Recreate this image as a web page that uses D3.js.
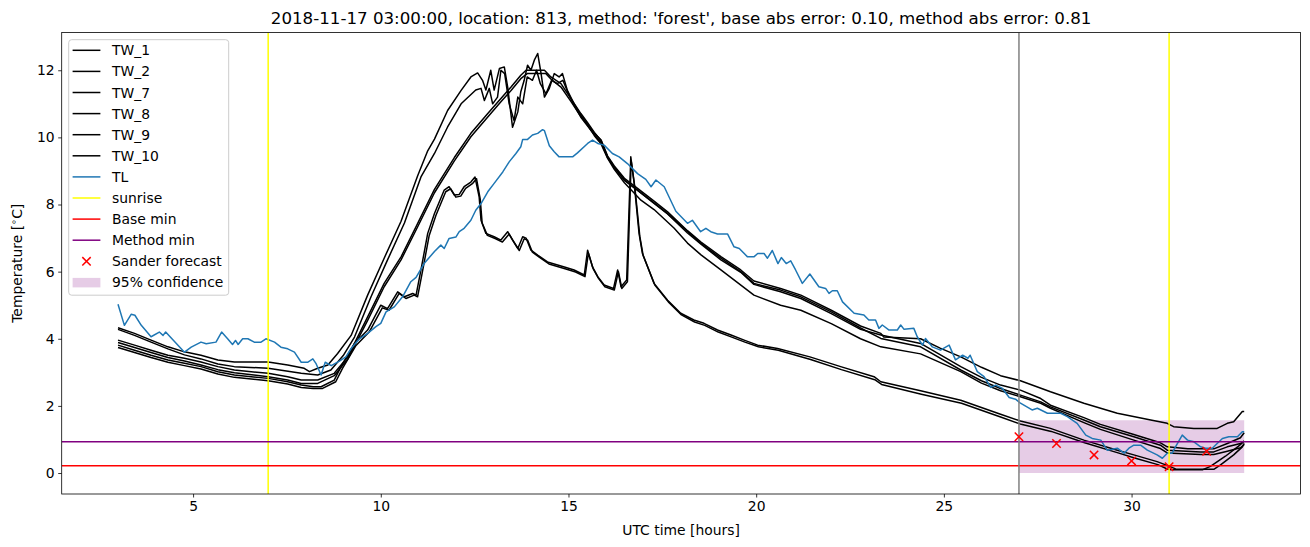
<!DOCTYPE html>
<html><head><meta charset="utf-8">
<script src="https://cdn.jsdelivr.net/npm/d3@7"></script>
<style>body{margin:0;background:#fff} svg{display:block} text{font-family:"DejaVu Sans",sans-serif;fill:#000}</style>
</head><body><svg id="chart" width="1310" height="547"></svg>
<script>
const titleText = "2018-11-17 03:00:00, location: 813, method: 'forest', base abs error: 0.10, method abs error: 0.81";
const xTicks = [5,10,15,20,25,30];
const yTicks = [0,2,4,6,8,10,12];
const xDomain = [1.5,34.5];
const yDomain = [-0.625,13.125];
const sunrise = [7,31];
const forecastStart = 27;
const baseMin = 0.22;
const methodMin = 0.93;
const sanderT = [27,28,29,30,31,32];
const sanderV = [1.08,0.88,0.54,0.36,0.19,0.65];
const confT = [27,33];
const confLow = [0.0,0.0];
const confHigh = [1.57,1.57];

const tw1 = [[3,4.33],[3.44,4.16],[3.88,3.96],[4.33,3.76],[4.77,3.61],[5.21,3.51],[5.66,3.37],[6.1,3.31],[7.0,3.31],[7.52,3.22],[7.96,3.12],[8.1,3.02],[8.32,3.12],[8.59,3.22],[8.85,3.56],[9.21,4.1],[9.65,5.3],[10.09,6.4],[10.54,7.5],[10.98,8.85],[11.25,9.6],[11.43,9.95],[11.78,10.8],[12.14,11.4],[12.4,11.8],[12.58,11.92],[12.71,11.7],[12.8,11.41],[12.93,12.0],[13.02,11.41],[13.16,12.05],[13.29,12.1],[13.38,11.5],[13.51,10.3],[13.65,10.76],[13.73,11.36],[13.82,11.7],[13.91,12.15],[14.0,12.0],[14.09,12.3],[14.18,12.5],[14.27,11.9],[14.36,11.2],[14.49,11.46],[14.62,11.9],[14.75,11.8],[14.84,11.9],[14.97,11.4],[15.15,11.0],[15.33,10.66],[15.5,10.4],[15.69,10.12],[15.87,9.92],[16.04,9.45],[16.22,9.15],[16.49,8.78],[16.84,8.48],[17.28,8.1],[17.64,7.78],[18.17,7.22],[18.53,6.88],[19.06,6.45],[19.59,6.05],[19.94,5.72],[20.65,5.5],[21.19,5.3],[22.0,4.85],[22.78,4.38],[23.32,4.16],[23.4,4.05],[24.38,4.0],[24.9,3.72],[25.45,3.46],[26.0,3.15],[26.51,2.9],[27.04,2.75],[27.84,2.42],[28.73,2.08],[29.62,1.78],[30.51,1.58],[30.95,1.48],[31.12,1.38],[31.66,1.33],[32.28,1.33],[32.55,1.48],[32.72,1.53],[32.95,1.83],[33,1.83]];
const tw2 = [[3,4.28],[3.44,4.1],[3.88,3.9],[4.33,3.7],[4.77,3.52],[5.21,3.4],[5.66,3.25],[6.1,3.17],[7.0,3.12],[7.88,2.97],[8.32,2.92],[8.67,3.07],[9.0,3.5],[9.3,4.05],[9.74,5.25],[10.18,6.35],[10.63,7.45],[11.07,8.82],[11.43,9.52],[11.78,10.31],[12.14,11.0],[12.53,11.41],[12.67,11.46],[12.76,11.1],[12.89,11.46],[12.98,11.0],[13.11,11.2],[13.2,12.0],[13.3,11.9],[13.42,11.0],[13.55,10.5],[13.65,11.2],[13.78,11.0],[13.9,11.8],[14.04,11.7],[14.15,12.0],[14.25,11.6],[14.4,11.3],[14.55,11.7],[14.7,11.6],[14.85,11.7],[15.0,11.3],[15.15,10.95],[15.33,10.6],[15.5,10.35],[15.69,10.08],[15.87,9.85],[16.04,9.4],[16.22,9.1],[16.49,8.72],[16.84,8.42],[17.28,8.03],[17.64,7.72],[18.17,7.15],[18.53,6.82],[19.06,6.35],[19.59,5.98],[19.94,5.62],[20.65,5.4],[21.19,5.2],[22.0,4.75],[22.78,4.28],[23.32,4.11],[24.38,3.86],[25.45,3.17],[26.0,2.85],[26.51,2.62],[27.04,2.47],[27.58,2.22],[27.84,2.02],[28.73,1.65],[29.17,1.45],[30.06,1.15],[30.77,0.9],[30.95,0.78],[31.5,0.72],[32.19,0.72],[32.55,0.88],[32.9,1.05],[33,1.2]];
const tw7 = [[3,3.96],[3.44,3.81],[3.88,3.66],[4.33,3.51],[4.77,3.42],[5.21,3.31],[5.66,3.17],[6.1,3.07],[7.0,2.97],[7.52,2.87],[7.88,2.77],[8.32,2.77],[8.76,2.97],[9.12,3.46],[9.65,4.65],[10.09,5.65],[10.54,6.44],[10.98,7.43],[11.43,8.45],[11.96,9.4],[12.4,10.12],[12.85,10.71],[13.2,11.16],[13.47,11.5],[13.73,11.85],[13.87,12.0],[14.36,12.0],[14.53,11.8],[14.8,11.6],[15.06,11.16],[15.33,10.71],[15.5,10.45],[15.69,10.15],[15.87,9.9],[16.04,9.42],[16.22,9.12],[16.49,8.73],[16.84,8.43],[17.28,8.05],[17.64,7.73],[18.17,7.2],[18.53,6.84],[19.06,6.4],[19.59,6.0],[19.94,5.65],[20.65,5.45],[21.19,5.25],[22.0,4.8],[22.78,4.32],[23.32,4.01],[24.38,3.76],[25.45,3.07],[26.0,2.75],[26.51,2.52],[27.04,2.32],[27.58,2.12],[27.84,1.97],[28.73,1.58],[29.17,1.38],[30.06,1.08],[30.77,0.83],[30.95,0.68],[31.84,0.63],[32.19,0.63],[32.55,0.78],[32.9,0.88],[33,0.95]];
const tw8 = [[3,3.89],[3.44,3.74],[3.88,3.59],[4.33,3.44],[4.77,3.34],[5.21,3.22],[5.66,3.08],[6.1,2.99],[7.0,2.87],[7.52,2.77],[7.88,2.67],[8.32,2.67],[8.76,2.9],[9.12,3.4],[9.65,4.55],[10.09,5.55],[10.54,6.35],[10.98,7.33],[11.43,8.35],[11.96,9.3],[12.4,10.02],[12.85,10.61],[13.2,11.06],[13.47,11.4],[13.73,11.75],[13.9,11.9],[14.4,11.9],[14.55,11.72],[14.8,11.5],[15.06,11.08],[15.33,10.62],[15.5,10.38],[15.69,10.05],[15.87,9.8],[16.04,9.38],[16.22,9.05],[16.49,8.65],[16.93,8.13],[17.28,7.85],[17.81,7.3],[18.17,6.85],[18.53,6.5],[19.06,6.05],[19.94,5.3],[20.65,5.0],[21.19,4.85],[22.0,4.45],[22.78,4.0],[23.32,3.76],[24.38,3.55],[25.45,3.02],[26.0,2.68],[26.51,2.45],[27.04,2.27],[27.58,2.08],[27.84,1.93],[28.73,1.5],[29.17,1.3],[30.06,0.98],[30.77,0.73],[30.95,0.6],[31.84,0.55],[32.19,0.55],[32.55,0.65],[32.9,0.75],[33,0.85]];
const tw9 = [[3,3.81],[3.44,3.66],[3.88,3.51],[4.33,3.37],[4.77,3.27],[5.21,3.17],[5.66,3.02],[6.1,2.92],[7.0,2.82],[7.52,2.72],[7.88,2.62],[8.2,2.57],[8.41,2.57],[8.76,2.77],[8.94,3.17],[9.3,3.86],[9.65,4.26],[10.0,5.0],[10.18,4.9],[10.45,5.4],[10.63,5.25],[10.85,5.35],[10.94,5.3],[11.07,6.05],[11.25,7.14],[11.43,7.73],[11.69,8.43],[11.82,8.53],[11.96,8.28],[12.09,8.3],[12.22,8.53],[12.4,8.67],[12.51,8.82],[12.62,8.23],[12.67,7.53],[12.8,7.14],[13.02,7.04],[13.2,6.94],[13.38,7.19],[13.51,6.94],[13.65,6.69],[13.78,7.04],[13.87,7.0],[14.0,6.64],[14.18,6.49],[14.44,6.29],[14.89,6.14],[15.15,6.05],[15.42,5.9],[15.51,6.64],[15.64,6.14],[15.78,5.85],[15.95,5.6],[16.2,5.5],[16.31,6.05],[16.4,5.55],[16.55,5.75],[16.66,9.42],[16.75,8.63],[16.88,7.14],[16.97,6.54],[17.28,5.65],[17.64,5.15],[17.99,4.76],[18.34,4.56],[18.61,4.46],[18.97,4.26],[19.33,4.11],[19.68,3.96],[20.04,3.81],[20.57,3.71],[21.43,3.46],[22.25,3.17],[23.14,2.87],[23.32,2.72],[24.38,2.45],[25.45,2.17],[26.51,1.75],[27.04,1.55],[27.84,1.33],[28.73,0.98],[29.62,0.68],[30.06,0.54],[30.68,0.34],[31.03,0.19],[31.2,0.11],[32.19,0.11],[32.37,0.24],[32.72,0.54],[32.95,0.78],[33,0.88]];
const tw10 = [[3,3.74],[3.44,3.59],[3.88,3.44],[4.33,3.3],[4.77,3.2],[5.21,3.1],[5.66,2.95],[6.1,2.85],[7.0,2.75],[7.52,2.65],[7.88,2.55],[8.2,2.52],[8.45,2.52],[8.8,2.72],[8.98,3.12],[9.34,3.8],[9.69,4.2],[10.04,4.92],[10.22,4.85],[10.49,5.35],[10.67,5.2],[10.89,5.3],[10.98,5.25],[11.11,6.0],[11.29,7.08],[11.47,7.68],[11.73,8.38],[11.86,8.47],[12.0,8.22],[12.13,8.25],[12.26,8.48],[12.44,8.62],[12.55,8.77],[12.65,8.15],[12.7,7.45],[12.84,7.08],[13.06,6.98],[13.24,6.88],[13.42,7.12],[13.55,6.88],[13.69,6.63],[13.82,6.98],[13.91,6.94],[14.04,6.58],[14.22,6.43],[14.48,6.23],[14.93,6.08],[15.19,5.99],[15.44,5.85],[15.53,6.55],[15.66,6.08],[15.8,5.8],[15.97,5.55],[16.22,5.45],[16.33,6.0],[16.42,5.5],[16.57,5.7],[16.67,9.3],[16.77,8.5],[16.9,7.05],[16.99,6.48],[17.3,5.6],[17.66,5.1],[18.01,4.71],[18.36,4.5],[18.63,4.4],[18.99,4.2],[19.35,4.05],[19.7,3.9],[20.06,3.76],[20.59,3.66],[21.45,3.38],[22.27,3.08],[23.16,2.78],[23.34,2.64],[24.4,2.35],[25.47,2.08],[26.53,1.66],[27.06,1.45],[27.86,1.24],[28.75,0.9],[29.64,0.6],[30.08,0.45],[30.7,0.25],[30.95,0.12],[31.05,0.1],[31.9,0.1],[32.1,0.2],[32.5,0.5],[32.85,0.8],[33,0.95]];
const tl = [[3,5.03],[3.17,4.4],[3.35,4.73],[3.45,4.7],[3.62,4.4],[3.88,4.06],[4.1,4.2],[4.2,4.1],[4.27,4.2],[4.77,3.6],[4.95,3.75],[5.21,3.9],[5.35,3.85],[5.61,3.9],[5.76,4.2],[5.92,4.0],[6.05,3.83],[6.13,3.95],[6.2,3.83],[6.32,4.0],[6.46,4.0],[6.63,3.9],[6.81,3.9],[6.94,4.0],[7.17,3.9],[7.34,3.75],[7.52,3.7],[7.7,3.6],[7.88,3.3],[8.05,3.3],[8.19,3.4],[8.28,3.25],[8.41,2.92],[8.52,3.3],[8.68,3.2],[8.92,3.35],[9.07,3.46],[9.21,3.71],[9.43,4.0],[9.65,4.16],[9.87,4.36],[10.0,4.46],[10.14,4.8],[10.36,4.95],[10.58,5.25],[10.8,5.7],[10.94,5.83],[11.16,6.25],[11.43,6.6],[11.6,6.79],[11.69,6.69],[11.82,6.99],[12.0,7.03],[12.09,7.19],[12.22,7.29],[12.4,7.53],[12.53,7.83],[12.67,8.03],[12.85,8.38],[13.02,8.63],[13.25,8.97],[13.42,9.27],[13.6,9.52],[13.73,9.72],[13.78,9.94],[13.91,9.94],[14.04,10.07],[14.18,10.12],[14.31,10.23],[14.36,10.2],[14.49,9.75],[14.62,9.57],[14.75,9.42],[15.11,9.42],[15.24,9.54],[15.51,9.82],[15.64,9.92],[15.78,9.82],[15.95,9.77],[16.17,9.52],[16.35,9.42],[16.57,9.22],[16.84,8.92],[17.06,8.75],[17.2,8.53],[17.33,8.73],[17.55,8.53],[17.86,7.8],[18.17,7.44],[18.3,7.53],[18.52,7.19],[18.66,7.29],[18.79,7.19],[18.97,7.12],[19.24,7.12],[19.41,6.74],[19.55,6.69],[19.77,6.44],[19.94,6.44],[20.04,6.54],[20.21,6.54],[20.3,6.4],[20.43,6.63],[20.58,6.24],[20.67,6.42],[20.8,6.24],[20.92,6.32],[21.05,6.05],[21.23,5.65],[21.43,5.93],[21.67,5.55],[21.85,5.5],[21.94,5.35],[22.03,5.43],[22.16,5.43],[22.3,5.1],[22.61,4.76],[22.87,4.71],[23.0,4.56],[23.18,4.56],[23.27,4.31],[23.36,4.41],[23.54,4.26],[23.76,4.26],[23.85,4.41],[23.94,4.28],[24.2,4.31],[24.29,4.06],[24.43,3.81],[24.51,4.01],[24.69,3.76],[24.91,3.66],[25.14,3.81],[25.31,3.37],[25.5,3.51],[25.64,3.42],[25.7,3.51],[25.89,3.02],[26.07,2.87],[26.25,2.55],[26.38,2.62],[26.56,2.52],[26.74,2.25],[26.91,2.2],[27.04,2.08],[27.35,1.88],[27.49,1.93],[27.76,1.78],[28.11,1.78],[28.29,1.68],[28.55,1.48],[28.78,1.13],[28.95,1.03],[29.18,0.98],[29.35,0.68],[29.62,0.74],[29.8,0.59],[29.93,0.74],[30.06,0.83],[30.24,0.83],[30.42,0.68],[30.68,0.54],[30.82,0.44],[30.95,0.59],[31.08,0.59],[31.17,0.78],[31.35,1.13],[31.49,0.98],[31.66,0.93],[31.84,0.78],[31.97,0.74],[32.15,0.74],[32.28,0.88],[32.42,1.03],[32.59,1.08],[32.82,1.08],[32.95,1.23],[33,1.23]];

const seriesNames = ["TW_1","TW_2","TW_7","TW_8","TW_9","TW_10"];
const seriesData = [tw1,tw2,tw7,tw8,tw9,tw10];

const L=61.7,R=1300.5,T=32.5,B=494;
const svg=d3.select("#chart");
const x=d3.scaleLinear().domain(xDomain).range([L,R]);
const y=d3.scaleLinear().domain(yDomain).range([B,T]);

svg.append("defs").append("clipPath").attr("id","clip").append("rect")
  .attr("x",L).attr("y",T).attr("width",R-L).attr("height",B-T);
const plot=svg.append("g").attr("clip-path","url(#clip)");

// confidence fill
const area=d3.area().x((d,i)=>x(confT[i])).y0((d,i)=>y(confLow[i])).y1((d,i)=>y(confHigh[i]));
plot.append("path").attr("d",area(confT)).attr("fill","purple").attr("fill-opacity",0.2);

const line=d3.line().x(d=>x(d[0])).y(d=>y(d[1]));
seriesData.forEach(s=>{
  plot.append("path").attr("d",line(s)).attr("fill","none").attr("stroke","#000").attr("stroke-width",1.5).attr("stroke-linejoin","round");
});
plot.append("path").attr("d",line(tl)).attr("fill","none").attr("stroke","#1f77b4").attr("stroke-width",1.5).attr("stroke-linejoin","round");

sunrise.forEach(s=>{
  plot.append("line").attr("x1",x(s)).attr("x2",x(s)).attr("y1",T).attr("y2",B).attr("stroke","yellow").attr("stroke-width",1.5);
});
plot.append("line").attr("x1",L).attr("x2",R).attr("y1",y(baseMin)).attr("y2",y(baseMin)).attr("stroke","red").attr("stroke-width",1.5);
plot.append("line").attr("x1",L).attr("x2",R).attr("y1",y(methodMin)).attr("y2",y(methodMin)).attr("stroke","purple").attr("stroke-width",1.5);
plot.append("line").attr("x1",x(forecastStart)).attr("x2",x(forecastStart)).attr("y1",T).attr("y2",B).attr("stroke","grey").attr("stroke-width",1.5);

const ms=4.2;
sanderT.forEach((t,i)=>{
  const cx=x(t), cy=y(sanderV[i]);
  plot.append("path").attr("d",`M${cx-ms},${cy-ms}L${cx+ms},${cy+ms}M${cx-ms},${cy+ms}L${cx+ms},${cy-ms}`)
    .attr("stroke","red").attr("stroke-width",1.5).attr("fill","none");
});

// axes
const xAxis=d3.axisBottom(x).tickValues(xTicks).tickSize(3.5).tickPadding(3.5).tickFormat(d3.format("d"));
const yAxis=d3.axisLeft(y).tickValues(yTicks).tickSize(3.5).tickPadding(3.5).tickFormat(d3.format("d"));
const gx=svg.append("g").attr("transform",`translate(0,${B})`).call(xAxis);
const gy=svg.append("g").attr("transform",`translate(${L},0)`).call(yAxis);
[gx,gy].forEach(g=>{
  g.select(".domain").remove();
  g.selectAll(".tick line").attr("stroke","#000").attr("stroke-width",0.8);
  g.selectAll(".tick text").attr("font-size","13.9px").attr("font-family","DejaVu Sans").attr("fill","#000");
});
svg.append("rect").attr("x",L).attr("y",T).attr("width",R-L).attr("height",B-T)
  .attr("fill","none").attr("stroke","#000").attr("stroke-width",0.8);

// title & labels
svg.append("text").attr("x",(L+R)/2).attr("y",24).attr("text-anchor","middle").attr("font-size","16.67px").text(titleText);
svg.append("text").attr("x",(L+R)/2).attr("y",535).attr("text-anchor","middle").attr("font-size","13.9px").text("UTC time [hours]");
const yl=svg.append("text").attr("transform",`translate(22,${(T+B)/2}) rotate(-90)`).attr("text-anchor","middle").attr("font-size","13.9px");
yl.append("tspan").text("Temperature [");
yl.append("tspan").attr("dy",-5).attr("font-size","9.7px").text("\u2218");
yl.append("tspan").attr("dy",5).text("C]");

// legend
const lg=svg.append("g");
lg.append("rect").attr("x",68.7).attr("y",39.7).attr("width",160).attr("height",255.5).attr("rx",3)
  .attr("fill","#fff").attr("fill-opacity",0.8).attr("stroke","#cccccc").attr("stroke-width",1);
const items=[
  ...seriesNames.map(n=>({label:n,type:"line",color:"#000"})),
  {label:"TL",type:"line",color:"#1f77b4"},
  {label:"sunrise",type:"line",color:"yellow"},
  {label:"Base min",type:"line",color:"red"},
  {label:"Method min",type:"line",color:"purple"},
  {label:"Sander forecast",type:"marker",color:"red"},
  {label:"95% confidence",type:"patch",color:"purple"}
];
const hx0=72.6,hx1=100.4,tx=112,ry0=50.3,dy=21.1;
items.forEach((it,i)=>{
  const cy=ry0+i*dy;
  if(it.type==="line"){
    lg.append("line").attr("x1",hx0).attr("x2",hx1).attr("y1",cy).attr("y2",cy).attr("stroke",it.color).attr("stroke-width",1.5);
  } else if(it.type==="marker"){
    const cx=(hx0+hx1)/2;
    lg.append("path").attr("d",`M${cx-ms},${cy-ms}L${cx+ms},${cy+ms}M${cx-ms},${cy+ms}L${cx+ms},${cy-ms}`).attr("stroke",it.color).attr("stroke-width",1.5);
  } else {
    lg.append("rect").attr("x",hx0).attr("y",cy-4.5).attr("width",hx1-hx0).attr("height",9.5).attr("fill",it.color).attr("fill-opacity",0.2);
  }
  lg.append("text").attr("x",tx).attr("y",cy).attr("dy","0.36em").attr("font-size","13.9px").text(it.label);
});
</script></body></html>
